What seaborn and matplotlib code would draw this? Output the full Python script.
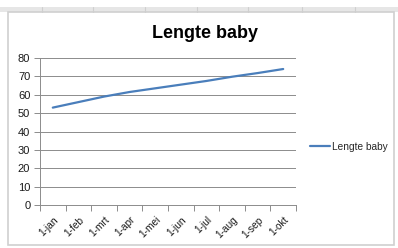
# Import libraries
import pandas as pd
import matplotlib.pyplot as plt
import matplotlib.patches as mpatches
import seaborn as sns

# Data
months = ['1-jan', '1-feb', '1-mrt', '1-apr', '1-mei', '1-jun', '1-jul', '1-aug', '1-sep', '1-okt']
lengte = [53, 56, 59, 61.5, 63.5, 65.5, 67.5, 69.8, 71.8, 74]
y_ticks = [0, 10, 20, 30, 40, 50, 60, 70, 80]

data = pd.DataFrame({'maand': months, 'lengte': lengte})

sns.set_theme(style="white")
plt.rcParams['font.family'] = ['Liberation Sans', 'DejaVu Sans']

W, H = 398, 248
fig = plt.figure(figsize=(W / 100, H / 100), dpi=100)
fig.patch.set_facecolor('white')

# spreadsheet strip at the top and the chart frame
fig.patches.append(mpatches.Rectangle((0, 1 - 12 / H), 1, 5 / H, transform=fig.transFigure,
                                      facecolor='#e6e6e6', edgecolor='none', zorder=0))
for xd in [42, 93, 145, 197, 248, 302, 355]:
    fig.add_artist(plt.Line2D([xd / W, xd / W], [1 - 12 / H, 1 - 7 / H], transform=fig.transFigure,
                              color='#cfcfcf', lw=0.8))
fig.patches.append(mpatches.Rectangle((8 / W, 1 - 245 / H), 386 / W, 233 / H, transform=fig.transFigure,
                                      facecolor='white', edgecolor='#d0d0d0', lw=1.2, zorder=1))

ax = fig.add_axes([40 / W, 1 - 205 / H, 256 / W, 147 / H])
ax.set_facecolor('none')
ax.set_zorder(2)

sns.lineplot(data=data, x='maand', y='lengte', ax=ax, color='#4A7EBB', linewidth=1.6,
             label='Lengte baby', legend=False)

ax.set_xlim(-0.5, len(months) - 0.5)
ax.set_ylim(0, 80)
ax.set_yticks(y_ticks)
ax.yaxis.grid(True, color='#8c8c8c', linewidth=0.7)
ax.xaxis.grid(False)
ax.set_xlabel('')
ax.set_ylabel('')

# category labels centred, tick marks between categories
ax.set_xticks(range(len(months)))
ax.set_xticklabels(months, rotation=45, ha='right', rotation_mode='anchor', fontsize=7.3, color='#1a1a1a')
ax.set_xticks([i - 0.5 for i in range(len(months) + 1)], minor=True)
ax.tick_params(axis='x', which='major', length=0, pad=7)
ax.tick_params(axis='x', which='minor', length=4, color='#8c8c8c', width=0.7, direction='out', bottom=True)
ax.tick_params(axis='y', length=4, color='#8c8c8c', width=0.7, direction='out', left=True,
               labelsize=8, labelcolor='#1a1a1a', pad=3)

for side in ['top', 'right']:
    ax.spines[side].set_visible(False)
for side in ['left', 'bottom']:
    ax.spines[side].set_color('#8c8c8c')
    ax.spines[side].set_linewidth(0.7)

# title and legend
fig.text(205 / W, 1 - 34 / H, 'Lengte baby', ha='center', va='center', fontsize=13,
         fontweight='bold', color='black', zorder=3)
handles, labels = ax.get_legend_handles_labels()
fig.legend(handles, labels, loc='center left', bbox_to_anchor=(310 / W, 1 - 147 / H), frameon=False,
           fontsize=7.3, handlelength=2.0, handletextpad=0.15, borderaxespad=0, borderpad=0)

plt.savefig('out.png', dpi=100)
plt.close()
